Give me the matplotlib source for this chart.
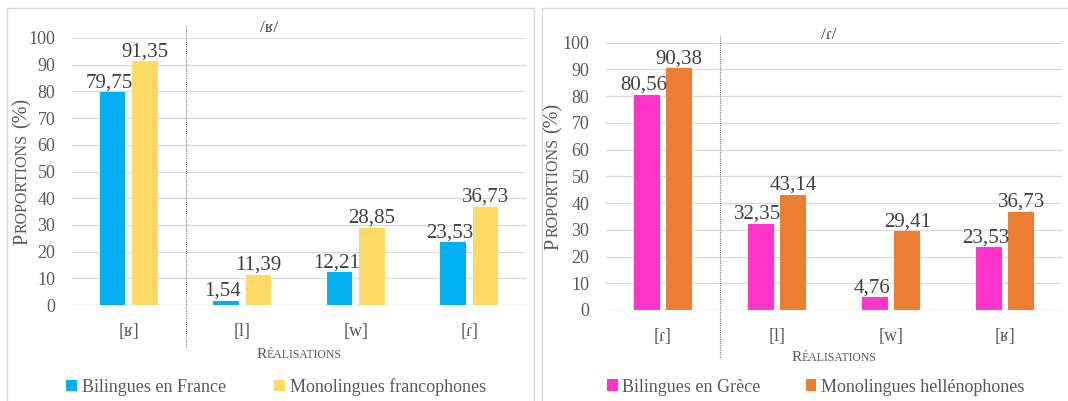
import matplotlib
matplotlib.use("Agg")
import matplotlib.pyplot as plt
from matplotlib.patches import Rectangle
from matplotlib.transforms import offset_copy
import numpy as np

# data
fr_categories = ["[ʁ]", "[l]", "[w]", "[ɾ]"]
fr_bilingual = [79.75, 1.54, 12.21, 23.53]
fr_monolingual = [91.35, 11.39, 28.85, 36.73]
fr_series = ["Bilingues en France", "Monolingues francophones"]
fr_title = "/ʁ/"

gr_categories = ["[ɾ]", "[l]", "[w]", "[ʁ]"]
gr_bilingual = [80.56, 32.35, 4.76, 23.53]
gr_monolingual = [90.38, 43.14, 29.41, 36.73]
gr_series = ["Bilingues en Grèce", "Monolingues hellénophones"]
gr_title = "/ɾ/"

yticks = list(range(0, 101, 10))

SERIF = ["Liberation Serif", "DejaVu Serif"]
plt.rcParams["font.family"] = SERIF

W, H = 1068, 401
fig = plt.figure(figsize=(W / 100, H / 100), dpi=100)


def fx(x):
    return x / W


def fy(y):
    return 1 - y / H


def small_caps(parts, x, y, rotation=0, color="#595959"):
    # parts: (text, fontsize, gap_before_px); laid out one after another, centred on (x, y)
    arts = []
    for s, sz, gap in parts:
        t = fig.text(fx(x), fy(y), s, fontsize=sz, rotation=rotation,
                     rotation_mode="anchor", ha="left", va="baseline",
                     color=color, family=SERIF)
        arts.append((t, gap))
    r = fig.canvas.get_renderer()
    lens = []
    for t, gap in arts:
        bb = t.get_window_extent(r)
        lens.append(gap + (bb.width if rotation == 0 else bb.height))
    off = -sum(lens) / 2
    for (t, gap), L in zip(arts, lens):
        off += gap
        if rotation == 0:
            t.set_transform(offset_copy(fig.transFigure, fig=fig, x=off, y=0, units="dots"))
        else:
            t.set_transform(offset_copy(fig.transFigure, fig=fig, x=0, y=off, units="dots"))
        off += L - gap


def panel(box, cats, s1, s2, names, colors, title, title_xy, dash_y, legend_xy, colspace,
          real_y, prop_x):
    left, top, right, bottom = box
    ax = fig.add_axes([fx(left), fy(bottom), (right - left) / W, (bottom - top) / H])
    x = np.arange(len(cats))
    w = 0.227
    off = 0.143
    b1 = ax.bar(x - off, s1, w, color=colors[0], label=names[0], zorder=3, linewidth=0)
    b2 = ax.bar(x + off, s2, w, color=colors[1], label=names[1], zorder=3, linewidth=0)
    for bars, vals, dx in ((b1, s1, -3), (b2, s2, 0)):
        for rect, v in zip(bars, vals):
            ax.annotate(f"{v:.2f}".replace(".", ","),
                        (rect.get_x() + rect.get_width() / 2, v),
                        xytext=(dx, 5), textcoords="offset pixels",
                        ha="center", va="baseline", fontsize=15, color="#404040")
    ax.set_xlim(-0.5, len(cats) - 0.5)
    ax.set_ylim(0, 100)
    ax.set_yticks(yticks)
    ax.set_xticks(x)
    ax.set_xticklabels(cats)
    ax.tick_params(axis="y", length=0, pad=12, labelsize=13, labelcolor="#595959")
    ax.tick_params(axis="x", length=0, pad=13, labelsize=13, labelcolor="#595959")
    ax.grid(axis="y", color="#D9D9D9", linewidth=0.9, zorder=0)
    ax.set_axisbelow(True)
    for sp in ax.spines.values():
        sp.set_visible(False)
    ax.axhline(0, color="#D9D9D9", linewidth=0.9, zorder=1)

    # dashed separator between first category and the rest
    y0 = (bottom - dash_y[1]) / (bottom - top)
    y1 = (bottom - dash_y[0]) / (bottom - top)
    ax.plot([0.5, 0.5], [y0, y1], transform=ax.get_xaxis_transform(),
            color="#7F7F7F", linestyle=(0, (1, 1)), linewidth=0.8, clip_on=False)

    fig.text(fx(title_xy[0]), fy(title_xy[1]), title, ha="center", va="center",
             fontsize=12.5, color="#404040", family=SERIF)

    small_caps([("R", 11, 0), ("ÉALISATIONS", 8.5, 0.5)], (left + right) / 2, real_y)
    small_caps([("P", 14.5, 0), ("ROPORTIONS", 11.5, 1), ("(%)", 14.5, 5)],
               prop_x, (top + bottom) / 2, rotation=90)

    fig.legend(handles=[b1, b2], loc="center", ncol=2, frameon=False,
               bbox_to_anchor=(fx(legend_xy[0]), fy(legend_xy[1])),
               bbox_transform=fig.transFigure, fontsize=13, labelcolor="#595959",
               handlelength=0.6, handleheight=0.6, handletextpad=0.25,
               columnspacing=colspace, borderpad=0, borderaxespad=0)
    return ax


# panel frames
fig.patches.append(Rectangle((fx(7), fy(H + 5)), (534 - 7) / W, (H + 5 - 8) / H,
                             transform=fig.transFigure, fill=False,
                             edgecolor="#D9D9D9", linewidth=1))
fig.patches.append(Rectangle((fx(542), fy(H + 5)), (W + 10 - 542) / W, (H + 5 - 8) / H,
                             transform=fig.transFigure, fill=False,
                             edgecolor="#D9D9D9", linewidth=1))

panel((72, 38, 526, 305), fr_categories, fr_bilingual, fr_monolingual, fr_series,
      ["#00B0F0", "#FFD966"], fr_title, (269, 28), (25, 347), (276, 387), 2.7, 358, 27)
panel((606, 42.7, 1062, 310), gr_categories, gr_bilingual, gr_monolingual, gr_series,
      ["#FF33CC", "#ED7D31"], gr_title, (829, 35), (35, 357), (815.5, 387), 2.5, 361, 558)

fig.savefig("out.png", dpi=100)
